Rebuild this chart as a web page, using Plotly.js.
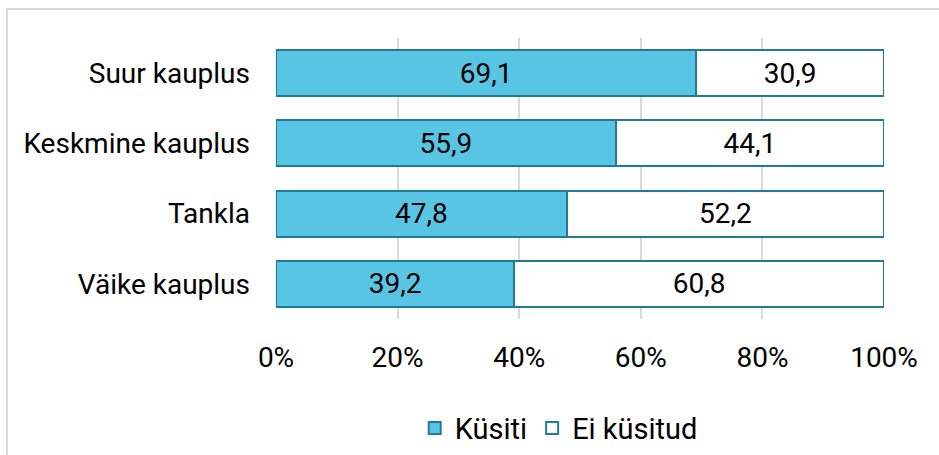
<!DOCTYPE html>
<html>
<head>
<meta charset="utf-8">
<script src="https://cdn.plot.ly/plotly-3.0.1.min.js"></script>
<style>
  html, body { margin: 0; padding: 0; background: #ffffff; }
  #wrap { position: relative; width: 939px; height: 455px; overflow: hidden; }
  #chart { position: absolute; left: 0; top: 0; width: 939px; height: 455px; }
  #frame { position: absolute; left: 6px; top: 8px; width: 1000px; height: 500px;
           border: 2px solid #d9d9d9; box-sizing: border-box; pointer-events: none; }
</style>
</head>
<body>
<div id="wrap">
  <div id="chart"></div>
  <div id="frame"></div>
</div>
<script>
const categories = ["Suur kauplus", "Keskmine kauplus", "Tankla", "Väike kauplus"];
const kusiti = [69.1, 55.9, 47.8, 39.2];
const eiKusitud = [30.9, 44.1, 52.2, 60.8];
const seriesNames = ["Küsiti", "Ei küsitud"];
const tickVals = [0, 20, 40, 60, 80, 100];
const tickText = ["0%", "20%", "40%", "60%", "80%", "100%"];

const FONT = "Roboto, 'DejaVu Sans', sans-serif";
const borderColor = "#207b97";

const traces = [
  {
    type: "bar", orientation: "h", name: seriesNames[0],
    y: categories, x: kusiti,
    marker: { color: "#57c5e3", line: { color: borderColor, width: 2 } },
    texttemplate: "%{x:.1f}", textposition: "inside",
    insidetextanchor: "middle", constraintext: "none",
    textfont: { family: FONT, size: 28, color: "#000000" },
    hoverinfo: "skip"
  },
  {
    type: "bar", orientation: "h", name: seriesNames[1],
    y: categories, x: eiKusitud,
    marker: { color: "#ffffff", line: { color: borderColor, width: 2 } },
    texttemplate: "%{x:.1f}", textposition: "inside",
    insidetextanchor: "middle", constraintext: "none",
    textfont: { family: FONT, size: 28, color: "#000000" },
    hoverinfo: "skip"
  }
];

const layout = {
  width: 939, height: 455,
  margin: { l: 276, r: 55, t: 38, b: 136 },
  paper_bgcolor: "rgba(0,0,0,0)",
  plot_bgcolor: "rgba(0,0,0,0)",
  barmode: "stack",
  bargap: 0.345,
  separators: ", ",
  font: { family: FONT, size: 28, color: "#000000" },
  showlegend: true,
  legend: {
    orientation: "h", xref: "container", yref: "container",
    x: 0.595, xanchor: "center", y: 0.059, yanchor: "middle",
    font: { family: FONT, size: 29, color: "#000000" },
    traceorder: "normal", itemwidth: 30
  },
  xaxis: {
    range: [0, 100], tickmode: "array", tickvals: tickVals, ticktext: tickText,
    showgrid: true, gridcolor: "#d9d9d9", gridwidth: 2,
    zeroline: false, showline: false, ticks: "",
    ticklabelstandoff: 19,
    tickfont: { family: FONT, size: 28, color: "#000000" },
    fixedrange: true
  },
  yaxis: {
    type: "category", categoryorder: "array", categoryarray: categories,
    autorange: "reversed",
    showgrid: false, zeroline: false, showline: false, ticks: "",
    ticklabelstandoff: 25,
    tickfont: { family: FONT, size: 28, color: "#000000" },
    fixedrange: true
  }
};

Plotly.newPlot("chart", traces, layout, { displayModeBar: false, staticPlot: true });
</script>
</body>
</html>
